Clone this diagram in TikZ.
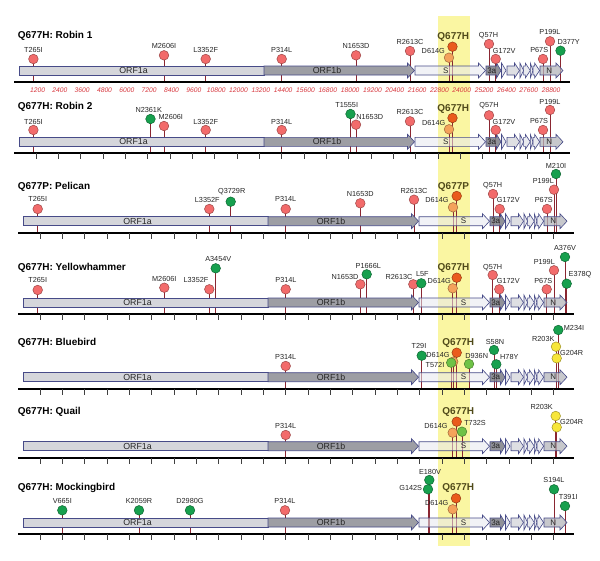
\documentclass[tikz,border=0pt]{standalone}
\usepackage{fontspec}
\setmainfont{Liberation Sans}
\pgfdeclarelayer{bg}
\pgfdeclarelayer{stemlayer}
\pgfdeclarelayer{genelayer}
\pgfsetlayers{bg,stemlayer,genelayer,main}

\definecolor{hl}{HTML}{FAF6A2}
\definecolor{outl}{HTML}{474B88}
\definecolor{stemc}{HTML}{8A2631}
\definecolor{mred}{HTML}{F26B6B}
\definecolor{mgreen}{HTML}{17A04E}
\definecolor{mlgreen}{HTML}{6EC246}
\definecolor{morange}{HTML}{EA5B1C}
\definecolor{mlorange}{HTML}{F4A25B}
\definecolor{myellow}{HTML}{F7E63A}
\definecolor{qcol}{HTML}{504A1A}
\definecolor{tickred}{HTML}{D8383F}
\definecolor{c1a}{HTML}{D5D6DB}
\definecolor{c1b}{HTML}{9D9EA4}
\definecolor{cS}{HTML}{E6E8EF}
\definecolor{c3a}{HTML}{7D7E87}
\definecolor{csm}{HTML}{E4E5EB}
\definecolor{cM}{HTML}{D6D7DD}
\definecolor{cN}{HTML}{B5B6BC}

\tikzset{
  dot/.style={circle, draw=#1!65!black, line width=0.5pt, minimum size=9.6pt, inner sep=0pt, fill=#1},
  mr/.style={dot=mred},
  mg/.style={dot=mgreen},
  mlg/.style={dot=mlgreen},
  mo/.style={dot=morange},
  mlo/.style={dot=mlorange},
  my/.style={dot=myellow},
  stem/.style={draw=stemc, line width=0.9pt},
  lab/.style={inner sep=0pt, font=\fontsize{7.3}{8}\selectfont, text=black!85},
  qlab/.style={inner sep=0pt, font=\fontsize{10}{11}\selectfont\bfseries, text=qcol},
  rowtitle/.style={anchor=west, inner sep=0pt, font=\fontsize{10}{12}\selectfont\bfseries},
  gene/.style={draw=outl, line width=0.6pt},
  glab/.style={inner sep=0pt, font=\fontsize{8.8}{10}\selectfont, text=black!85},
  sglab/.style={inner sep=0pt, font=\fontsize{8}{9}\selectfont, text=black!85},
  axisline/.style={line width=2.2pt, black},
  tickm/.style={line width=0.7pt, black!75},
  ticklab/.style={inner sep=0pt, font=\fontsize{6.7}{8}\selectfont\itshape, text=tickred},
}

% gene arrow: x0, x1, head length, style
\newcommand{\genearrow}[4]{%
  \draw[#4] (#1,-16) -- (#2-#3,-16) -- (#2-#3,-19) -- (#2,-11.5) -- (#2-#3,-4) -- (#2-#3,-7) -- (#1,-7) -- cycle;}

% genome: x shift, name prefix, S label x (local)
\newcommand{\genome}[3]{%
  \begin{pgfonlayer}{genelayer}
  \begin{scope}[xshift=#1]
    \draw[gene, fill=c1a] (19,-16) rectangle (264,-7);
    \genearrow{264}{414.5}{7}{gene,fill=c1b}
    \genearrow{415}{485.5}{7}{gene,fill=cS,fill opacity=0.55}
    \genearrow{486}{501}{4.5}{gene,fill=c3a,fill opacity=0.85}
    \genearrow{501.5}{506}{4.5}{gene,fill=csm,fill opacity=0.8}
    \genearrow{507}{519.5}{5}{gene,fill=cM,fill opacity=0.8}
    \genearrow{520}{523.6}{3.6}{gene,fill=csm,fill opacity=0.8}
    \genearrow{523.6}{530.3}{5}{gene,fill=csm,fill opacity=0.8}
    \genearrow{530.3}{533}{2.7}{gene,fill=csm,fill opacity=0.8}
    \genearrow{533}{539.6}{5}{gene,fill=csm,fill opacity=0.8}
    \genearrow{540}{563}{7}{gene,fill=cN,fill opacity=0.75}
    \draw[axisline] (14,0) -- (569.5,0);
    \node[glab] (#2o1a) at (133.5,-11.5) {ORF1a};
    \node[glab] (#2o1b) at (327,-11.5) {ORF1b};
    \node[sglab] (#2s) at (#3,-11.5) {S};
    \node[sglab] (#2o3a) at (491.7,-11.5) {3a};
    \node[sglab] (#2n) at (549.3,-11.5) {N};
  \end{scope}
  \end{pgfonlayer}}

\newcommand{\ticks}[1]{%
  \begin{pgfonlayer}{genelayer}
  \foreach \k in {1,...,24} \draw[tickm] ({13.7+#1+\k*22.33},0) -- ++(0,6);
  \end{pgfonlayer}}

% mutation: name, x, circle height, style, text, label x, label height, label style
\newcommand{\mut}[8]{%
  \coordinate (#1b) at (#2,0);
  \node[#4] (#1) at (#2,-#3) {};
  \begin{pgfonlayer}{stemlayer}\draw[stem] (#1b) -- (#1.center);\end{pgfonlayer}
  \node[#8] (#1t) at (#6,-#7) {#5};}

\begin{document}
\begin{tikzpicture}[x=1pt,y=-1pt]
\useasboundingbox (0,0) rectangle (600,560);
\begin{pgfonlayer}{bg}
  \fill[white] (0,0) rectangle (600,560);
  \fill[hl] (438,16) rectangle (470,546);
\end{pgfonlayer}

% Row 1
\begin{scope}[shift={(0,82)}]
  \node[rowtitle] (t1) at (17.7,-46) {Q677H: Robin 1};
  \genome{0}{ra}{445.7}
  \foreach \k [evaluate=\k as \v using int(\k*12)] in {1,...,24}
    \node[ticklab] (tl\k) at ({15.2+\k*22.33},8) {\v00};
  \mut{aA}{33.4}{23}{mr}{T265I}{33.4}{32}{lab}
  \mut{aB}{164}{26.7}{mr}{M2606I}{164}{36}{lab}
  \mut{aC}{205.7}{23}{mr}{L3352F}{205.7}{32}{lab}
  \mut{aD}{281.7}{23}{mr}{P314L}{281.7}{32}{lab}
  \mut{aE}{356}{26.7}{mr}{N1653D}{356}{36}{lab}
  \mut{aF}{410}{31}{mr}{R2613C}{410}{40}{lab}
  \mut{aG}{449}{24.3}{mlo}{D614G}{433.3}{31}{lab}
  \mut{aH}{452.5}{35.3}{mo}{Q677H}{453.3}{45}{qlab}
  \mut{aI}{489}{38}{mr}{Q57H}{488.5}{46}{lab}
  \mut{aJ}{495.7}{23}{mr}{G172V}{504.2}{31}{lab}
  \mut{aK}{543}{23}{mr}{P67S}{539.2}{32}{lab}
  \mut{aL}{550}{40.7}{mr}{P199L}{550}{50}{lab}
  \mut{aM}{560.5}{31.3}{mg}{D377Y}{568.7}{40}{lab}
\end{scope}

% Row 2
\begin{scope}[shift={(0,153.3)}]
  \node[rowtitle] (t2) at (17.7,-46) {Q677H: Robin 2};
  \genome{0}{rb}{445.7}
  \ticks{0}
  \mut{bA}{33.4}{23.3}{mr}{T265I}{33.4}{31.6}{lab}
  \mut{bB}{150.5}{34.3}{mg}{N2361K}{148.7}{43}{lab}
  \mut{bC}{164}{27.3}{mr}{M2606I}{170.8}{36.6}{lab}
  \mut{bD}{205.7}{23.3}{mr}{L3352F}{205.7}{31.6}{lab}
  \mut{bE}{281.7}{23.3}{mr}{P314L}{281.7}{31.6}{lab}
  \mut{bF}{350.5}{39.3}{mg}{T1555I}{346.7}{48}{lab}
  \mut{bG}{356}{28.6}{mr}{N1653D}{369.7}{36.6}{lab}
  \mut{bH}{410}{32}{mr}{R2613C}{410}{41}{lab}
  \mut{bI}{449}{24}{mlo}{D614G}{433.7}{30}{lab}
  \mut{bJ}{452.5}{35.3}{mo}{Q677H}{453.3}{44.3}{qlab}
  \mut{bK}{489}{38}{mr}{Q57H}{489}{47.3}{lab}
  \mut{bL}{495.7}{23.3}{mr}{G172V}{504}{31}{lab}
  \mut{bM}{543}{23.3}{mr}{P67S}{539}{32.6}{lab}
  \mut{bN}{550}{43.3}{mr}{P199L}{550}{51.3}{lab}
\end{scope}

% Row 3
\begin{scope}[shift={(0,232.7)}]
  \node[rowtitle] (t3) at (17.7,-46) {Q677P: Pelican};
  \genome{4}{rc}{459.5}
  \ticks{4}
  \mut{cA}{37.7}{23.7}{mr}{T265I}{37.7}{33.4}{lab}
  \mut{cB}{209.3}{23.7}{mr}{L3352F}{207.3}{32.7}{lab}
  \mut{cC}{230.7}{31}{mg}{Q3729R}{231.7}{41}{lab}
  \mut{cD}{285.7}{23.7}{mr}{P314L}{285.7}{33.4}{lab}
  \mut{cE}{360.3}{29.4}{mr}{N1653D}{360.3}{38.7}{lab}
  \mut{cF}{414}{33}{mr}{R2613C}{414}{41.7}{lab}
  \mut{cG}{453}{25.4}{mlo}{D614G}{437}{32.7}{lab}
  \mut{cH}{456.7}{36.7}{mo}{Q677P}{453.5}{46}{qlab}
  \mut{cI}{493}{38.7}{mr}{Q57H}{492.7}{47}{lab}
  \mut{cJ}{499.7}{23.7}{mr}{G172V}{508.3}{32.7}{lab}
  \mut{cK}{547}{23.7}{mr}{P67S}{543.8}{32.7}{lab}
  \mut{cL}{554}{43}{mr}{P199L}{543.3}{51.7}{lab}
  \mut{cM}{556}{58.7}{mg}{M210I}{556}{67}{lab}
\end{scope}

% Row 4
\begin{scope}[shift={(0,314)}]
  \node[rowtitle] (t4) at (17.7,-46) {Q677H: Yellowhammer};
  \genome{4}{rd}{459.5}
  \ticks{4}
  \mut{dA}{37.7}{24}{mr}{T265I}{37.7}{34}{lab}
  \mut{dB}{164.3}{26.3}{mr}{M2606I}{164.3}{35}{lab}
  \mut{dC}{209.3}{24.7}{mr}{L3352F}{196}{34.3}{lab}
  \mut{dD}{215.7}{45.7}{mg}{A3454V}{218.3}{55}{lab}
  \mut{dE}{285.7}{24.7}{mr}{P314L}{286}{34}{lab}
  \mut{dF}{360.3}{29.7}{mr}{N1653D}{345}{37.3}{lab}
  \mut{dG}{366.7}{39.7}{mg}{P1666L}{368.3}{48.3}{lab}
  \mut{dH}{413.3}{29.7}{mr}{R2613C}{399}{37.3}{lab}
  \mut{dI}{421.3}{30.7}{mg}{L5F}{422.3}{40}{lab}
  \mut{dJ}{452.7}{25.7}{mlo}{D614G}{439.3}{33}{lab}
  \mut{dK}{456.7}{36.3}{mo}{Q677H}{453.5}{45.7}{qlab}
  \mut{dL}{492.7}{39}{mr}{Q57H}{492.7}{46.7}{lab}
  \mut{dM}{499.3}{24.7}{mr}{G172V}{508.3}{33}{lab}
  \mut{dN}{546.7}{24.7}{mr}{P67S}{543.3}{33}{lab}
  \mut{dO}{554}{43.7}{mr}{P199L}{544.3}{51.7}{lab}
  \mut{dP}{565}{57}{mg}{A376V}{565}{65.7}{lab}
  \mut{dQ}{566.7}{30.3}{mg}{E378Q}{580}{39}{lab}
\end{scope}

% Row 5
\begin{scope}[shift={(0,388.7)}]
  \node[rowtitle] (t5) at (17.7,-46) {Q677H: Bluebird};
  \genome{4}{re}{459.5}
  \ticks{4}
  \mut{eA}{285.7}{22.7}{mr}{P314L}{285.7}{31.7}{lab}
  \mut{eB}{421.7}{33}{mg}{T29I}{419}{42.7}{lab}
  \mut{eC}{453.2}{27}{mlo}{D614G}{438}{33.7}{lab}
  \mut{eD}{451.2}{26}{mlg}{T572I}{435}{23.7}{lab}
  \mut{eE}{456.7}{36}{mo}{Q677H}{458.3}{45.3}{qlab}
  \mut{eF}{469}{24.7}{mlg}{D936N}{476.7}{33}{lab}
  \mut{eG}{494}{38.7}{mg}{S58N}{495}{47}{lab}
  \mut{eH}{496.3}{24.4}{mg}{H78Y}{509.3}{31.4}{lab}
  \mut{eI}{558.3}{58.7}{mg}{M234I}{574}{61}{lab}
  \mut{eJ}{556}{42}{my}{R203K}{543.3}{49.4}{lab}
  \mut{eK}{556.7}{30.4}{my}{G204R}{571.7}{36}{lab}
\end{scope}

% Row 6
\begin{scope}[shift={(0,457.7)}]
  \node[rowtitle] (t6) at (17.7,-46) {Q677H: Quail};
  \genome{4}{rf}{459.5}
  \ticks{4}
  \mut{fA}{285.7}{22.7}{mr}{P314L}{285.7}{31.7}{lab}
  \mut{fB}{452.7}{25}{mlo}{D614G}{436}{31.7}{lab}
  \mut{fC}{456.7}{36}{mo}{Q677H}{458.3}{46}{qlab}
  \mut{fD}{462}{26}{mlg}{T732S}{475}{34.4}{lab}
  \mut{fE}{555.7}{41.7}{my}{R203K}{541.7}{50.4}{lab}
  \mut{fF}{556.7}{30.4}{my}{G204R}{571.7}{36}{lab}
\end{scope}

% Row 7
\begin{scope}[shift={(0,534)}]
  \node[rowtitle] (t7) at (17.7,-46) {Q677H: Mockingbird};
  \genome{4}{rg}{459.5}
  \ticks{4}
  \mut{gA}{62.3}{23.7}{mg}{V665I}{62.3}{33.3}{lab}
  \mut{gB}{139}{23.7}{mg}{K2059R}{139}{33.3}{lab}
  \mut{gC}{190}{23.7}{mg}{D2980G}{190}{33.3}{lab}
  \mut{gD}{285}{23.7}{mr}{P314L}{285}{33.3}{lab}
  \mut{gE}{429.3}{54}{mg}{E180V}{430}{62.3}{lab}
  \mut{gF}{428}{44.7}{mg}{G142S}{410.7}{46.3}{lab}
  \mut{gG}{452.7}{24.7}{mlo}{D614G}{436.7}{30.7}{lab}
  \mut{gH}{456}{35.7}{mo}{Q677H}{458.3}{45.7}{qlab}
  \mut{gI}{554}{44.7}{mg}{S194L}{554}{54}{lab}
  \mut{gJ}{565}{28}{mg}{T391I}{568.3}{37.3}{lab}
\end{scope}
\end{tikzpicture}
\end{document}
